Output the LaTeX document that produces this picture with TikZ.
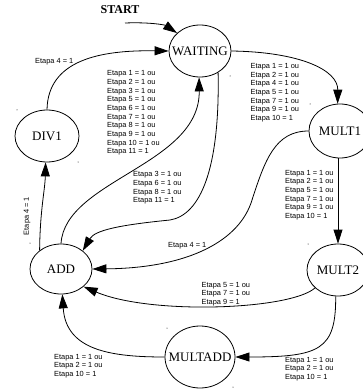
\documentclass[tikz,border=0pt]{standalone}
\usepackage{fontspec}
\setmainfont{Liberation Serif}
\newfontfamily\lblfont{Liberation Sans}
\usetikzlibrary{arrows.meta,shapes.geometric}
\begin{document}
\begin{tikzpicture}[x=1pt,y=-1pt,
  state/.style={draw,ellipse,line width=0.8pt,inner sep=0pt,font=\fontsize{13}{13}\selectfont},
  lbl/.style={inner sep=0pt,align=left,anchor=west,font=\lblfont\fontsize{7.4}{8.7}\selectfont},
  edge/.style={line width=0.8pt,-{Triangle[length=14pt,width=9pt]}},
  speck/.style={fill=black},
]
\useasboundingbox (0,0) rectangle (362,390);

% states
\node[state,minimum width=62pt,minimum height=52pt] (WAITING) at (200,51) {\makebox[0pt]{WAITING}};
\node[state,minimum width=62pt,minimum height=54pt] (MULT1) at (340,131) {\makebox[0pt]{MULT1}};
\node[state,minimum width=62pt,minimum height=52pt] (MULT2) at (338,270) {\makebox[0pt]{MULT2}};
\node[state,minimum width=62pt,minimum height=50pt] (ADD) at (61,269) {\makebox[0pt]{ADD}};
\node[state,minimum width=64pt,minimum height=52pt] (DIV1) at (47,136) {\makebox[0pt]{DIV1}};
\node[state,minimum width=70pt,minimum height=62pt] (MULTADD) at (200,357) {\makebox[0pt]{MULTADD}};

\node[font=\bfseries\fontsize{12}{12}\selectfont,inner sep=0pt] (start) at (120,10) {START};
\coordinate (startpt) at (125,23);

% connectors
\draw[edge] (startpt) .. controls (150,22) and (165,25) .. (WAITING.142);
\draw[edge] (DIV1.north) .. controls (48,60) and (100,50) .. (WAITING.west);
\draw[edge] (WAITING.east) .. controls (300,52) and (338,70) .. (MULT1.95);
\draw[edge] (ADD.north) .. controls (65,180) and (200,165) .. (WAITING.-92);
\draw[edge] (WAITING.-50) .. controls (220,170) and (200,215) .. (170,220) .. controls (120,225) and (95,230) .. (ADD.40);
\draw[edge] (MULT1.west) .. controls (275,131) and (265,160) .. (252,200) .. controls (240,240) and (190,268) .. (ADD.east);
\draw[edge] (MULT1.south -| MULT2.north) -- (MULT2.north);
\draw[edge] (MULT2.218) .. controls (290,310) and (150,315) .. (ADD.-38);
\draw[edge] (MULT2.-95) .. controls (336,350) and (320,357) .. (MULTADD.east);
\draw[edge] (MULTADD.west) .. controls (110,357) and (66,350) .. (ADD.-87);
\draw[edge] (ADD.139) .. controls (40,210) and (45,190) .. (DIV1.-93);

% labels
\node[lbl] (l1) at (35,62) {Etapa 4 = 1};
\node[lbl] (l2) at (250.5,92.7) {Etapa 1 = 1 ou\\Etapa 2 = 1 ou\\Etapa 4 = 1 ou\\Etapa 5 = 1 ou\\Etapa 7 = 1 ou\\Etapa 9 = 1 ou\\Etapa 10 = 1};
\node[lbl] (l3) at (107,113) {Etapa 1 = 1 ou\\Etapa 2 = 1 ou\\Etapa 3 = 1 ou\\Etapa 5 = 1 ou\\Etapa 6 = 1 ou\\Etapa 7 = 1 ou\\Etapa 8 = 1 ou\\Etapa 9 = 1 ou\\Etapa 10 = 1 ou\\Etapa 11 = 1};
\node[lbl] (l4) at (133,188) {Etapa 3 = 1 ou\\Etapa 6 = 1 ou\\Etapa 8 = 1 ou\\Etapa 11 = 1};
\node[lbl] (l5) at (168,246) {Etapa 4 = 1};
\node[lbl] (l6) at (285,195) {Etapa 1 = 1 ou\\Etapa 2 = 1 ou\\Etapa 5 = 1 ou\\Etapa 7 = 1 ou\\Etapa 9 = 1 ou\\Etapa 10 = 1};
\node[lbl] (l7) at (201.5,294) {Etapa 5 = 1 ou\\Etapa 7 = 1 ou\\Etapa 9 = 1};
\node[lbl] (l8) at (285,369) {Etapa 1 = 1 ou\\Etapa 2 = 1 ou\\Etapa 10 = 1};
\node[lbl] (l9) at (54,366) {Etapa 1 = 1 ou\\Etapa 2 = 1 ou\\Etapa 10 = 1};
\node[lbl,anchor=center,rotate=90] (l10) at (27,216) {Etapa 4 = 1};

% stray specks
\foreach \p in {(17,110),(230,76),(310,104),(78,162),(30,243),(233,387),(167,328),(308,244)}
  \fill[speck] \p circle (0.5pt);
\end{tikzpicture}
\end{document}
